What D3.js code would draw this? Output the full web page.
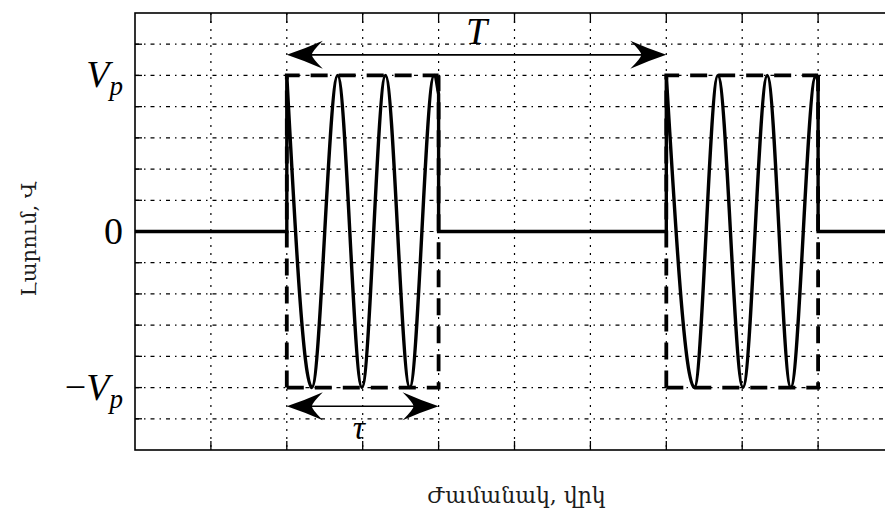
<!DOCTYPE html>
<html>
<head>
<meta charset="utf-8">
<script src="https://cdn.jsdelivr.net/npm/d3@7/dist/d3.min.js"></script>
<style>
  html, body { margin: 0; padding: 0; background: #fff; }
  svg { display: block; }
</style>
</head>
<body>
<svg id="chart" width="885" height="513"></svg>
<script>
// Time axis (arbitrary units) and voltage levels
const timeDomain = [0, 10];
const voltDomain = [-7, 7];
const gridTimes = [1, 2, 3, 4, 5, 6, 7, 8, 9];
const gridLevels = [-6, -5, -4, -3, -2, -1, 0, 1, 2, 3, 4, 5, 6];
const Vp = 5;

// Y tick labels ("_" marks a subscript)
const yTickValues = [Vp, 0, -Vp];
const yTickLabels = ["V_p", "0", "\u2212V_p"];

// Pulse envelopes: start and end time of each radio pulse
const pulseStart = [2, 7];
const pulseEnd = [4, 9];

// Carrier extrema within each pulse: [time, voltage]
const pulse1Extrema = [[2.00, 5], [2.33, -5], [2.67, 5], [2.99, -5], [3.30, 5], [3.62, -5], [3.94, 5], [4.00, 4.4]];
const pulse2Extrema = [[7.00, 5], [7.37, -5], [7.68, 5], [8.01, -5], [8.33, 5], [8.64, -5], [8.97, 5], [9.00, 4.8]];

// Period and pulse-width annotations
const periodArrow = { from: 2, to: 7, level: 5.66, label: "T", labelAt: [4.5, 6.0] };
const widthArrow = { from: 2, to: 4, level: -5.6, label: "\u03C4", labelAt: [2.95, -6.65] };

const xTitle = "Ժամանակ, վրկ";
const yTitle = "Լարում, Վ";

const svg = d3.select("#chart");
const plot = { left: 135, right: 894, top: 13, bottom: 450 };

const x = d3.scaleLinear().domain(timeDomain).range([plot.left, plot.right]);
const y = d3.scaleLinear().domain(voltDomain).range([plot.bottom, plot.top]);

const mathFont = "'Liberation Serif', 'DejaVu Serif', serif";

// Dash-dot grid
const grid = svg.append("g").attr("stroke", "#000").attr("fill", "none");
grid.selectAll("line.h").data(gridLevels).join("line")
  .attr("class", "h")
  .attr("x1", plot.left).attr("x2", plot.right)
  .attr("y1", d => y(d)).attr("y2", d => y(d))
  .attr("stroke-width", 1.2)
  .attr("stroke-dasharray", "4,5,1.5,5");
grid.selectAll("line.v").data(gridTimes).join("line")
  .attr("class", "v")
  .attr("y1", plot.top).attr("y2", plot.bottom)
  .attr("x1", d => x(d)).attr("x2", d => x(d))
  .attr("stroke-width", 1.2)
  .attr("stroke-dasharray", "2,6");

// Inward tick marks on the frame
const ticks = svg.append("g").attr("stroke", "#000").attr("stroke-width", 1.3);
ticks.selectAll("line.t").data(gridTimes).join("line")
  .attr("x1", d => x(d)).attr("x2", d => x(d))
  .attr("y1", plot.top).attr("y2", plot.top + 10);
ticks.selectAll("line.b").data(gridTimes).join("line")
  .attr("x1", d => x(d)).attr("x2", d => x(d))
  .attr("y1", plot.bottom).attr("y2", plot.bottom - 9);
ticks.selectAll("line.l").data(gridLevels).join("line")
  .attr("x1", plot.left).attr("x2", plot.left + 7)
  .attr("y1", d => y(d)).attr("y2", d => y(d));

// Dashed envelopes of the pulses
const env = svg.append("g").attr("fill", "none").attr("stroke", "#000")
  .attr("stroke-width", 3.8).attr("stroke-dasharray", "17,11");
pulseStart.forEach((s, i) => {
  const e = pulseEnd[i];
  env.append("path").attr("d", d3.line()([
    [x(s), y(-Vp)], [x(s), y(Vp)], [x(e), y(Vp)]
  ]));
  env.append("path").attr("d", d3.line()([
    [x(s), y(-Vp)], [x(e), y(-Vp)], [x(e), y(Vp)]
  ]));
});

// Signal: flat baseline, jumps at pulse edges, carrier oscillation inside pulses
const linear = d3.line().x(d => x(d[0])).y(d => y(d[1]));
const smooth = d3.line().x(d => x(d[0])).y(d => y(d[1])).curve(d3.curveMonotoneX);
const extrema = [pulse1Extrema, pulse2Extrema];

let pathStr = "";
const addPart = (gen, pts) => {
  const s = gen(pts);
  pathStr += pathStr === "" ? s : s.replace(/^M/, "L");
};
let prevT = timeDomain[0];
pulseStart.forEach((s, i) => {
  const ex = extrema[i];
  addPart(linear, [[prevT, 0], [s, 0], ex[0]]);
  addPart(smooth, ex);
  const last = ex[ex.length - 1];
  addPart(linear, [last, [pulseEnd[i], 0]]);
  prevT = pulseEnd[i];
});
addPart(linear, [[prevT, 0], [timeDomain[1], 0]]);

svg.append("path")
  .attr("d", pathStr)
  .attr("fill", "none")
  .attr("stroke", "#000")
  .attr("stroke-width", 3.4)
  .attr("stroke-linejoin", "miter");

// Frame
svg.append("rect")
  .attr("x", plot.left).attr("y", plot.top)
  .attr("width", plot.right - plot.left).attr("height", plot.bottom - plot.top)
  .attr("fill", "none").attr("stroke", "#000").attr("stroke-width", 1.6);

// Double-headed annotation arrows with stealth heads
const head = "M0,0 Q18,-6 36,-14 Q25,-3 25,0 Q25,3 36,14 Q18,6 0,0 Z";
function dimArrow(a) {
  const g = svg.append("g");
  const yy = y(a.level);
  g.append("line")
    .attr("x1", x(a.from) + 20).attr("x2", x(a.to) - 20)
    .attr("y1", yy).attr("y2", yy)
    .attr("stroke", "#000").attr("stroke-width", 1.6);
  g.append("path").attr("d", head)
    .attr("transform", `translate(${x(a.from)},${yy})`).attr("fill", "#000");
  g.append("path").attr("d", head)
    .attr("transform", `translate(${x(a.to)},${yy}) scale(-1,1)`).attr("fill", "#000");
  g.append("text")
    .attr("x", x(a.labelAt[0])).attr("y", y(a.labelAt[1]))
    .attr("text-anchor", "middle")
    .attr("font-family", mathFont).attr("font-style", "italic")
    .attr("font-size", a.label === "T" ? 38 : 34)
    .text(a.label);
}
dimArrow(periodArrow);
dimArrow(widthArrow);

// Y tick labels
yTickValues.forEach((v, i) => {
  const parts = yTickLabels[i].split("_");
  const t = svg.append("text")
    .attr("x", 123).attr("y", y(v) + 12)
    .attr("text-anchor", "end")
    .attr("font-family", mathFont).attr("font-size", 38);
  const main = parts[0];
  if (main.startsWith("\u2212")) {
    t.append("tspan").text("\u2212");
    t.append("tspan").attr("font-style", "italic").text(main.slice(1));
  } else if (parts.length > 1) {
    t.append("tspan").attr("font-style", "italic").text(main);
  } else {
    t.append("tspan").text(main);
  }
  if (parts.length > 1) {
    t.append("tspan").attr("font-style", "italic")
      .attr("font-size", 27).attr("dy", 8).text(parts[1]);
  }
});

// Axis titles
svg.append("text")
  .attr("x", (plot.left + plot.right) / 2 + 2).attr("y", 503)
  .attr("text-anchor", "middle")
  .attr("font-family", "'DejaVu Serif', 'Noto Sans', serif")
  .attr("font-size", 22).attr("fill", "#1c1c1c")
  .text(xTitle);
svg.append("text")
  .attr("transform", "translate(36,239) rotate(-90)")
  .attr("text-anchor", "middle")
  .attr("font-family", "'DejaVu Serif', 'Noto Sans', serif")
  .attr("font-size", 21).attr("fill", "#1c1c1c")
  .text(yTitle);
</script>
</body>
</html>
